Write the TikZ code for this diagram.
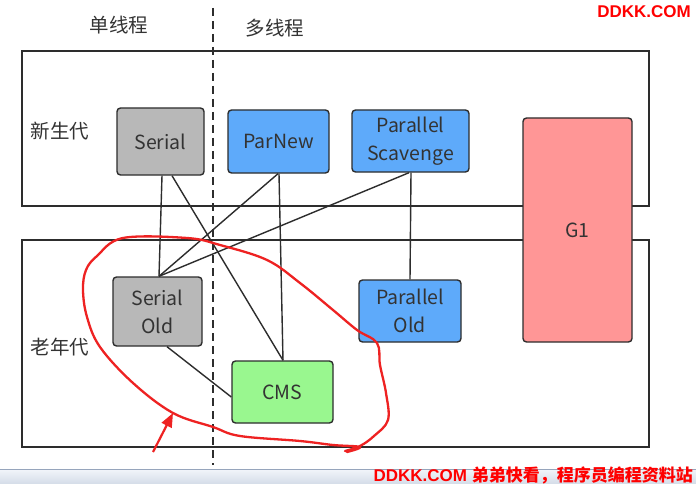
\documentclass[tikz,border=0pt]{standalone}
\usepackage{fontspec}
\setmainfont{Noto Sans CJK SC}
\newfontfamily\wmlatin{Liberation Sans}
\usetikzlibrary{arrows.meta}
\definecolor{txt}{RGB}{51,51,51}
\definecolor{edgecol}{RGB}{45,45,45}
\definecolor{boxgray}{RGB}{184,184,184}
\definecolor{boxblue}{RGB}{94,170,250}
\definecolor{boxgreen}{RGB}{153,247,143}
\definecolor{boxpink}{RGB}{255,150,150}
\definecolor{redmark}{RGB}{238,34,34}
\definecolor{wm}{RGB}{255,0,0}
\definecolor{barTop}{RGB}{242,245,250}
\definecolor{barBot}{RGB}{212,220,232}
\definecolor{barEdge}{RGB}{150,165,188}
\tikzset{
  gc/.style={draw=edgecol, line width=1.4pt, rounded corners=3.5pt, inner sep=0pt,
    text=txt, align=center, font=\fontsize{19.5}{28}\selectfont},
  lbl/.style={text=txt, font=\fontsize{19.5}{23}\selectfont, inner sep=0pt},
  frame/.style={draw=edgecol, line width=1.6pt},
  conn/.style={draw=edgecol, line width=1.4pt},
  wmtext/.style={text=wm, inner sep=0pt, font=\fontsize{17}{20}\selectfont\bfseries}
}
\begin{document}
\begin{tikzpicture}[x=1pt,y=-1pt]
\useasboundingbox (0,0) rectangle (696,484);
\fill[white] (0,0) rectangle (696,484);
% frames
\draw[frame] (22,51) rectangle (649,206);
\draw[frame] (22,240) rectangle (649,447);
% divider
\draw[line width=1.4pt, draw=edgecol, dash pattern=on 8pt off 5pt] (213,8) -- (213,465);
% labels
\node[lbl] (single) at (119,25) {单线程};
\node[lbl] (multi) at (275,28) {多线程};
\node[lbl] (young) at (60,131) {新生代};
\node[lbl] (old) at (60,347) {老年代};
% collectors
\node[gc, fill=boxgray, minimum width=87pt, minimum height=67pt] (serial) at (160.5,141.5) {Serial};
\node[gc, fill=boxblue, minimum width=101pt, minimum height=63pt] (parnew) at (278.5,141.5) {ParNew};
\node[gc, fill=boxblue, minimum width=117pt, minimum height=62pt] (scav) at (410.5,141) {Parallel\\Scavenge};
\node[gc, fill=boxgray, minimum width=89pt, minimum height=69pt] (serialold) at (157.5,311.5) {Serial\\Old};
\node[gc, fill=boxgreen, minimum width=101pt, minimum height=62pt] (cms) at (282.5,392) {CMS};
\node[gc, fill=boxblue, minimum width=102pt, minimum height=62pt] (parold) at (410,311) {Parallel\\Old};
\node[gc, fill=boxpink, minimum width=109pt, minimum height=224pt] (g1) at (577.5,230) {G1};
% connectors
\draw[conn] ([xshift=1.5pt]serial.south) -- ([xshift=1.5pt]serialold.north);
\draw[conn] ([xshift=11.5pt]serial.south) -- ([xshift=0.5pt]cms.north);
\draw[conn] ([xshift=-0.5pt]parnew.south) -- ([xshift=1.5pt]serialold.north);
\draw[conn] ([xshift=0.5pt]parnew.south) -- ([xshift=0.5pt]cms.north);
\draw[conn] ([xshift=-1.5pt]scav.south) -- ([xshift=1.5pt]serialold.north);
\draw[conn] ([xshift=0.5pt]scav.south) -- (parold.north);
\draw[conn] ([xshift=9.5pt]serialold.south) -- ([yshift=-5pt]cms.west);
% red hand-drawn loop
\draw[draw=redmark, line width=2.3pt, line cap=round, line join=round] plot[smooth, tension=0.6] coordinates {
  (347,452) (360,447) (333,445) (300,441) (240,436) (213,427) (173,413) (133,383)
  (100,347) (87,317) (83,290) (86,270) (97,256) (123,238) (187,238) (220,245)
  (267,260) (300,283) (333,310) (357,330) (377,343) (380,365) (386,393) (388,420)
  (374,436) (360,446) (345,451)};
\coordinate (arrowtail) at (153,452);
\coordinate (arrowtip) at (173,413);
\draw[draw=redmark, fill=redmark, line width=2.2pt, -{Triangle[width=11pt,length=14pt]}] (arrowtail) -- (arrowtip);
% bottom bar
\shade[top color=barTop, bottom color=barBot] (0,469) rectangle (696,484);
\draw[barEdge, line width=1pt] (0,469) -- (696,469);
% watermarks
\node[wmtext, anchor=north east] (wmtop) at (691,5) {\wmlatin\bfseries DDKK.COM};
\node[wmtext, anchor=base east] (wmbot) at (693,481) {\wmlatin\bfseries DDKK.COM \normalfont\fontsize{17}{20}\selectfont\bfseries 弟弟快看，程序员编程资料站};
\end{tikzpicture}
\end{document}
